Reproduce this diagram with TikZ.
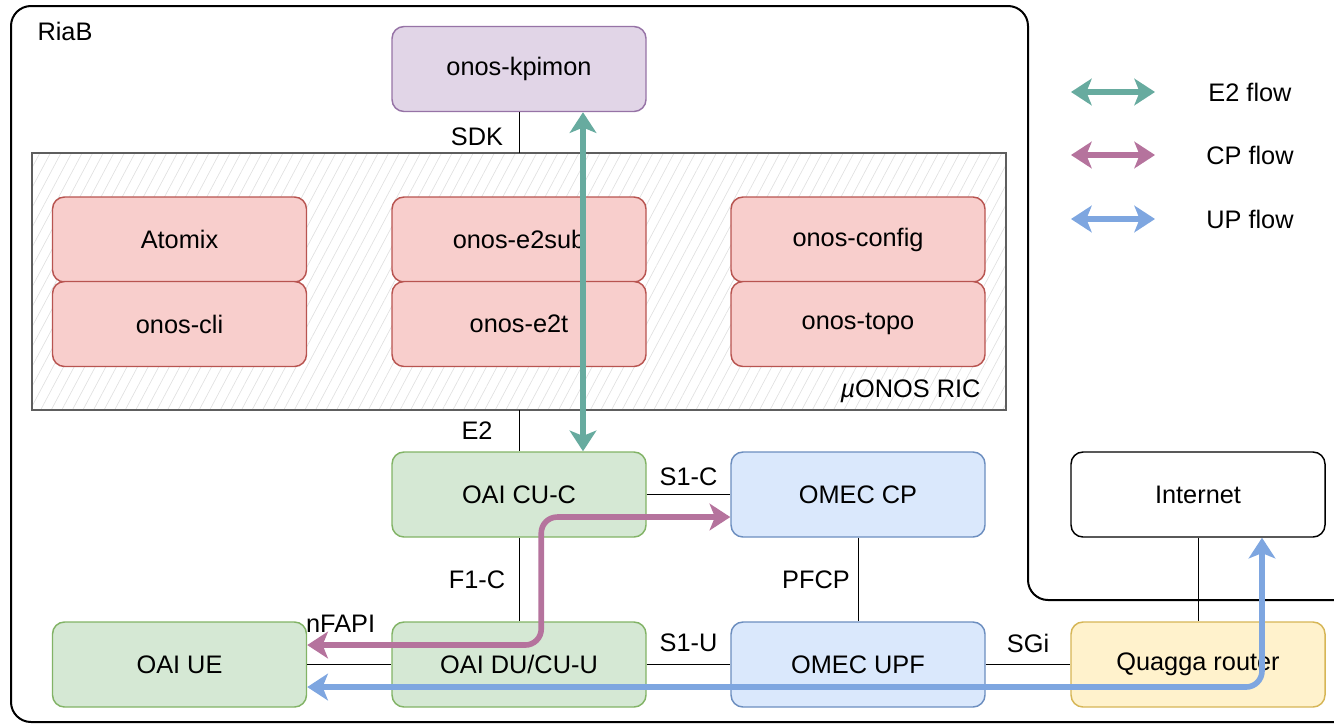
\documentclass[tikz,border=0pt]{standalone}
\usepackage{fontspec}
\setmainfont{Liberation Sans}
\usetikzlibrary{arrows.meta,patterns.meta}

\definecolor{e2col}{HTML}{67AB9F}
\definecolor{cpcol}{HTML}{B5739D}
\definecolor{upcol}{HTML}{7EA6E0}
\definecolor{purpfill}{HTML}{E1D5E7}
\definecolor{purpline}{HTML}{9673A6}
\definecolor{redfill}{HTML}{F8CECC}
\definecolor{redline}{HTML}{B85450}
\definecolor{grnfill}{HTML}{D5E8D4}
\definecolor{grnline}{HTML}{82B366}
\definecolor{blufill}{HTML}{DAE8FC}
\definecolor{bluline}{HTML}{6C8EBF}
\definecolor{yelfill}{HTML}{FFF2CC}
\definecolor{yelline}{HTML}{D6B656}
\definecolor{ricline}{HTML}{5E5E5E}

\tikzset{every picture/.style={line width=0.75pt}}
\tikzset{
  lbl/.style={font=\fontsize{19}{23}\selectfont, inner sep=0pt},
  blk/.style={draw, rounded corners=9pt, minimum width=190.5pt, minimum height=63.75pt,
    line width=1.1pt, inner sep=0pt, font=\fontsize{19}{23}\selectfont},
  kpibox/.style={blk, fill=purpfill, draw=purpline},
  ricbox/.style={blk, fill=redfill, draw=redline},
  oaibox/.style={blk, fill=grnfill, draw=grnline},
  omecbox/.style={blk, fill=blufill, draw=bluline},
  quagbox/.style={blk, fill=yelfill, draw=yelline},
  netbox/.style={blk, fill=white, draw=black},
  ricarea/.style={draw=ricline, line width=2.2pt, minimum width=730.5pt, minimum height=192.75pt,
    pattern={Lines[angle=62,distance=7pt,line width=0.5pt]}, pattern color=black!12},
  flow/.style={line width=4.2pt, rounded corners=12pt,
    >={Stealth[length=15.5pt,width=20pt,inset=4pt]}, <->},
  e2flow/.style={flow, draw=e2col},
  cpflow/.style={flow, draw=cpcol},
  upflow/.style={flow, draw=upcol}
}

\begin{document}
\begin{tikzpicture}[x=0.75pt,y=0.75pt,yscale=-1,xscale=1]
    \useasboundingbox (0,0) rectangle (1334,725);
    \path[clip] (0,0) rectangle (1334,725);

    %RiaB frame
    \draw [line width=1.5pt, rounded corners=15pt] (1360,600) -- (1028,600) -- (1028,6) -- (11,6) -- (11,722) -- (1360,722) ;
    % Text Node
    \node [lbl, anchor=west] (riab) at (37,31) {RiaB};

    %uONOS RIC area
    \node [ricarea] (ric) at (519,281.5) {};
    \node [lbl, anchor=east] (rictxt) at (981,391) {\textit{µ}ONOS RIC};

    %Rounded Rects
    \node [kpibox] (kpimon) at (519,69) {onos-kpimon};
    \node [ricbox] (atomix) at (179.5,239.5) {Atomix};
    \node [ricbox] (cli) at (179.5,324) {onos-cli};
    \node [ricbox] (e2sub) at (519,239.5) {onos-e2sub};
    \node [ricbox] (e2t) at (519,324) {onos-e2t};
    \node [ricbox] (config) at (858,239.5) {onos-config};
    \node [ricbox] (topo) at (858,324) {onos-topo};
    \node [oaibox] (cuc) at (519,494.5) {OAI CU-C};
    \node [omecbox] (omeccp) at (858,494.5) {OMEC CP};
    \node [netbox] (internet) at (1198,494.5) {Internet};
    \node [oaibox] (ue) at (179.5,664.5) {OAI UE};
    \node [oaibox] (du) at (519,664.5) {OAI DU/CU-U};
    \node [omecbox] (upf) at (858,664.5) {OMEC UPF};
    \node [quagbox] (quagga) at (1198,664.5) {Quagga router};

    %Straight Lines
    \draw (kpimon) -- (ric) node [lbl, midway, xshift=-31.5pt, yshift=-3pt] {SDK};
    \draw (ric) -- (cuc) node [lbl, midway, xshift=-31.5pt] {E2};
    \draw (cuc) -- (du) node [lbl, midway, xshift=-31.5pt] {F1-C};
    \draw (omeccp) -- (upf) node [lbl, midway, xshift=-31.5pt] {PFCP};
    \draw (cuc) -- (omeccp) node [lbl, midway, yshift=13pt] {S1-C};
    \draw (ue) -- (du) node [lbl, midway, xshift=-6.5pt, yshift=30.5pt] {nFAPI};
    \draw (du) -- (upf) node [lbl, midway, yshift=16pt] {S1-U};
    \draw (upf) -- (quagga) node [lbl, midway, yshift=16pt] {SGi};
    \draw (internet) -- (quagga);

    %Flows
    \draw [e2flow] ([xshift=48pt]kpimon.south) -- ([xshift=48pt]cuc.north);
    \draw [cpflow] ([yshift=-14.6pt]ue.east) -- ++(234,0) |- ([yshift=16.9pt]omeccp.west);
    \draw [upflow] ([yshift=16.9pt]ue.east) -| ([xshift=48pt]internet.south);

    %Legend
    \coordinate (e2l) at (1071,92);
    \coordinate (e2r) at (1155,92);
    \coordinate (cpl) at (1071,155);
    \coordinate (cpr) at (1155,155);
    \coordinate (upl) at (1071,219);
    \coordinate (upr) at (1155,219);
    \draw [e2flow] (e2l) -- (e2r);
    \draw [cpflow] (cpl) -- (cpr);
    \draw [upflow] (upl) -- (upr);
    % Text Node
    \node [lbl] (e2txt) at (1250,92) {E2 flow};
    % Text Node
    \node [lbl] (cptxt) at (1250,155) {CP flow};
    % Text Node
    \node [lbl] (uptxt) at (1250,219) {UP flow};

\end{tikzpicture}
\end{document}
